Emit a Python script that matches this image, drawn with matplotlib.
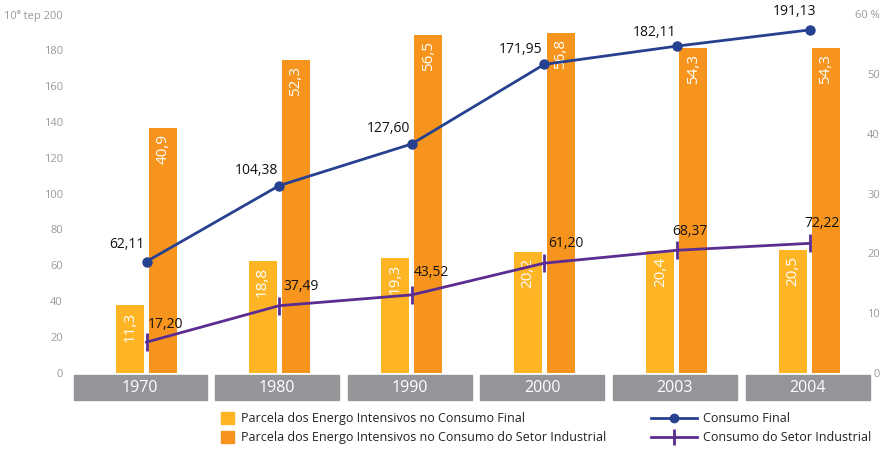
import matplotlib
matplotlib.use("Agg")
import matplotlib.pyplot as plt
from matplotlib.patches import Rectangle, Patch
from matplotlib.lines import Line2D
import matplotlib.transforms as mtransforms
import numpy as np

# ---------------- data ----------------
years = ['1970', '1980', '1990', '2000', '2003', '2004']
share_final = [11.3, 18.8, 19.3, 20.2, 20.4, 20.5]      # % (right axis)
share_industrial = [40.9, 52.3, 56.5, 56.8, 54.3, 54.3]  # % (right axis)
consumo_final = [62.11, 104.38, 127.60, 171.95, 182.11, 191.13]  # 10^6 tep
consumo_industrial = [17.20, 37.49, 43.52, 61.20, 68.37, 72.22]  # 10^6 tep
left_ticks = [0, 20, 40, 60, 80, 100, 120, 140, 160, 180, 200]
right_ticks = [0, 10, 20, 30, 40, 50, 60]
legend_labels = ['Parcela dos Energo Intensivos no Consumo Final',
                 'Parcela dos Energo Intensivos no Consumo do Setor Industrial',
                 'Consumo Final', 'Consumo do Setor Industrial']

# ---------------- style ----------------
YEL = '#FDB526'
ORA = '#F7941D'
BLUE = '#26418F'
PURP = '#5B2D90'
GREY = '#939598'
TICK = '#9a9a9a'
FONT = ['Open Sans', 'DejaVu Sans']
plt.rcParams['font.family'] = FONT

fig = plt.figure(figsize=(8.8, 4.51), dpi=100)
L, R, B, T = 74 / 880, 870 / 880, 78 / 451, 437 / 451
ax = fig.add_axes([L, B, R - L, T - B])
ax2 = ax.twinx()
ax.set_zorder(ax2.get_zorder() + 1)
ax.patch.set_visible(False)

x = np.arange(len(years))
unit = 132.6
bw = 28 / unit
off = 16.5 / unit

ax.set_xlim((74 - 146.5) / unit, (870 - 146.5) / unit)
ax.set_ylim(0, 200)
ax2.set_ylim(0, 60)

b1 = ax2.bar(x - off, share_final, bw, color=YEL, zorder=2)
b2 = ax2.bar(x + off, share_industrial, bw, color=ORA, zorder=2)
for bars, vals in ((b1, share_final), (b2, share_industrial)):
    for rect, v in zip(bars, vals):
        ax2.annotate(f"{v:.1f}".replace('.', ','),
                     (rect.get_x() + rect.get_width() / 2, rect.get_height()),
                     xytext=(0, -6), textcoords='offset pixels',
                     rotation=90, ha='center', va='top', color='white',
                     fontsize=11, zorder=3)

ax.plot(x, consumo_final, color=BLUE, lw=2, marker='o', ms=6.5, zorder=5)
ax.plot(x, consumo_industrial, color=PURP, lw=2, marker='|', ms=13, mew=2, zorder=5)

blue_off = [(-2, 17), (-1, 15), (-2, 15), (-2, 15), (-1, 14), (7, 18)]
purp_off = [(1, 18), (4, 19), (2, 22), (4, 20), (-5, 19), (-5, 20)]
for xi, v, o in zip(x, consumo_final, blue_off):
    ax.annotate(f"{v:.2f}".replace('.', ','), (xi, v), xytext=o,
                textcoords='offset pixels', ha='right', va='center',
                fontsize=10, color='#111111', zorder=6)
for xi, v, o in zip(x, consumo_industrial, purp_off):
    ax.annotate(f"{v:.2f}".replace('.', ','), (xi, v), xytext=o,
                textcoords='offset pixels', ha='left', va='center',
                fontsize=10, color='#111111', zorder=6)

# year boxes below the axis
trans = mtransforms.blended_transform_factory(ax.transData, ax.transAxes)
axh = 437 - 78
by0 = -(400 - 373) / axh
bh = 25 / axh
xl = ax.get_xlim()[0]
for i, yr in enumerate(years):
    x0 = i - 64 / unit
    x1 = i + 60 / unit
    if i == 0:
        x0 = xl
    ax.add_patch(Rectangle((x0, by0), x1 - x0, bh, transform=trans,
                           color=GREY, clip_on=False, zorder=1))
    ax.text((x0 + x1) / 2, by0 + bh / 2, yr, transform=trans, ha='center',
            va='center', color='white', fontsize=11.5)

# ticks
for a in (ax, ax2):
    for s in a.spines.values():
        s.set_visible(False)
    a.set_xticks([])
ax.set_yticks(left_ticks)
ax.set_yticklabels(['10⁶ tep 200' if t == 200 else str(t) for t in left_ticks])
ax.tick_params(axis='y', length=0, pad=8, labelsize=8, labelcolor=TICK)
ax2.set_yticks(right_ticks)
ax2.set_yticklabels(['60 %' if t == 60 else str(t) for t in right_ticks])
ax2.tick_params(axis='y', length=0, pad=7.2, labelsize=8, labelcolor=TICK)
for lab in ax2.get_yticklabels():
    lab.set_ha('right')

# legends
h_bars = [Patch(color=YEL), Patch(color=ORA)]
leg1 = fig.legend(h_bars, legend_labels[:2], loc='upper left',
                  bbox_to_anchor=(221 / 880, 1 - 412 / 451), frameon=False,
                  handlelength=1.05, handleheight=1.05, handletextpad=0.55,
                  labelspacing=0.5, borderaxespad=0, borderpad=0,
                  prop={'size': 9})
h_lines = [Line2D([], [], color=BLUE, lw=2, marker='o', ms=6),
           Line2D([], [], color=PURP, lw=2, marker='|', ms=12, mew=2)]
leg2 = fig.legend(h_lines, legend_labels[2:], loc='upper left',
                  bbox_to_anchor=(651 / 880, 1 - 412 / 451), frameon=False,
                  handlelength=3.7, handletextpad=0.45,
                  labelspacing=0.5, borderaxespad=0, borderpad=0,
                  prop={'size': 9})
for t in leg1.get_texts() + leg2.get_texts():
    t.set_color('#222222')

fig.savefig('out.png', dpi=100)
